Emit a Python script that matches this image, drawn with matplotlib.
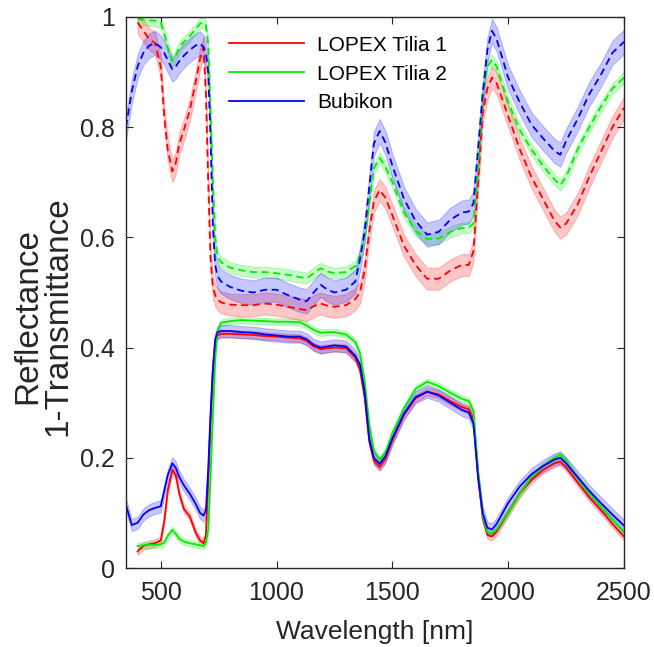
import numpy as np
import matplotlib
matplotlib.use("Agg")
import matplotlib.pyplot as plt

plt.rcParams['font.family'] = ['Liberation Sans', 'DejaVu Sans']

nan = np.nan
wavelength = [350, 375, 400, 425, 450, 475, 500, 515, 530, 550,
              565, 580, 600, 625, 650, 670, 685, 695, 705, 715,
              725, 735, 745, 760, 800, 850, 900, 950, 1000, 1050,
              1100, 1130, 1160, 1190, 1220, 1250, 1300, 1340, 1360, 1380,
              1400, 1420, 1445, 1470, 1500, 1550, 1600, 1650, 1700, 1750,
              1800, 1830, 1850, 1870, 1890, 1910, 1930, 1950, 2000, 2050,
              2100, 2150, 2200, 2225, 2250, 2300, 2350, 2400, 2450, 2500]

# 1 - Transmittance (dashed)
tilia1_1mT = [nan, nan, 0.99, 0.975, 0.96, 0.953, 0.91, 0.82, 0.76, 0.72,
              0.735, 0.77, 0.795, 0.83, 0.88, 0.925, 0.945, 0.86, 0.70, 0.56,
              0.51, 0.495, 0.488, 0.482, 0.478, 0.477, 0.477, 0.48, 0.478, 0.474,
              0.47, 0.468, 0.475, 0.48, 0.476, 0.474, 0.477, 0.488, 0.50, 0.54,
              0.61, 0.665, 0.686, 0.672, 0.64, 0.585, 0.55, 0.525, 0.525, 0.54,
              0.55, 0.55, 0.575, 0.70, 0.825, 0.87, 0.89, 0.88, 0.82, 0.76,
              0.71, 0.67, 0.63, 0.618, 0.625, 0.66, 0.71, 0.755, 0.80, 0.835]
tilia2_1mT = [nan, nan, 0.997, 0.995, 0.994, 0.993, 0.99, 0.97, 0.945, 0.92,
              0.93, 0.945, 0.955, 0.965, 0.978, 0.988, 0.99, 0.985, 0.95, 0.83,
              0.70, 0.60, 0.565, 0.555, 0.545, 0.54, 0.537, 0.537, 0.535, 0.532,
              0.528, 0.526, 0.535, 0.544, 0.538, 0.535, 0.537, 0.548, 0.565, 0.60,
              0.66, 0.725, 0.744, 0.728, 0.70, 0.645, 0.612, 0.597, 0.598, 0.61,
              0.617, 0.618, 0.625, 0.72, 0.86, 0.91, 0.922, 0.91, 0.845, 0.795,
              0.76, 0.73, 0.705, 0.695, 0.71, 0.76, 0.80, 0.837, 0.87, 0.89]
bubikon_1mT = [0.80, 0.865, 0.91, 0.935, 0.948, 0.953, 0.945, 0.935, 0.922, 0.905,
               0.91, 0.92, 0.93, 0.94, 0.948, 0.952, 0.945, 0.935, 0.90, 0.78,
               0.62, 0.55, 0.53, 0.52, 0.51, 0.503, 0.50, 0.505, 0.505, 0.495,
               0.487, 0.484, 0.50, 0.514, 0.505, 0.50, 0.505, 0.52, 0.56, 0.61,
               0.69, 0.77, 0.793, 0.772, 0.73, 0.67, 0.63, 0.605, 0.61, 0.632,
               0.645, 0.647, 0.662, 0.76, 0.86, 0.94, 0.975, 0.96, 0.89, 0.845,
               0.805, 0.78, 0.757, 0.75, 0.775, 0.815, 0.86, 0.895, 0.935, 0.955]

# Reflectance (solid)
tilia1_R = [nan, nan, 0.03, 0.04, 0.043, 0.045, 0.05, 0.085, 0.14, 0.178,
            0.168, 0.135, 0.107, 0.094, 0.065, 0.05, 0.045, 0.06, 0.16, 0.27,
            0.36, 0.41, 0.422, 0.425, 0.425, 0.424, 0.423, 0.421, 0.42, 0.418,
            0.417, 0.412, 0.402, 0.397, 0.399, 0.40, 0.399, 0.382, 0.36, 0.31,
            0.23, 0.195, 0.183, 0.198, 0.232, 0.278, 0.308, 0.32, 0.315, 0.303,
            0.292, 0.288, 0.27, 0.165, 0.09, 0.06, 0.057, 0.066, 0.10, 0.135,
            0.16, 0.178, 0.19, 0.193, 0.183, 0.155, 0.128, 0.105, 0.08, 0.057]
tilia2_R = [nan, nan, 0.04, 0.041, 0.042, 0.042, 0.043, 0.046, 0.058, 0.069,
            0.062, 0.053, 0.048, 0.045, 0.043, 0.041, 0.04, 0.045, 0.07, 0.17,
            0.28, 0.38, 0.43, 0.445, 0.448, 0.45, 0.449, 0.448, 0.447, 0.447,
            0.446, 0.44, 0.432, 0.427, 0.428, 0.428, 0.424, 0.41, 0.39, 0.34,
            0.26, 0.213, 0.196, 0.21, 0.245, 0.29, 0.325, 0.338, 0.33, 0.318,
            0.307, 0.303, 0.285, 0.175, 0.095, 0.065, 0.063, 0.07, 0.10, 0.135,
            0.165, 0.185, 0.20, 0.205, 0.195, 0.163, 0.135, 0.112, 0.088, 0.065]
bubikon_R = [0.114, 0.078, 0.082, 0.097, 0.105, 0.109, 0.112, 0.14, 0.168, 0.19,
             0.182, 0.165, 0.15, 0.135, 0.117, 0.10, 0.095, 0.105, 0.18, 0.28,
             0.36, 0.415, 0.428, 0.43, 0.43, 0.428, 0.427, 0.424, 0.422, 0.42,
             0.42, 0.415, 0.405, 0.40, 0.402, 0.404, 0.402, 0.385, 0.37, 0.32,
             0.235, 0.20, 0.189, 0.203, 0.235, 0.28, 0.31, 0.32, 0.313, 0.30,
             0.287, 0.282, 0.262, 0.165, 0.10, 0.073, 0.07, 0.08, 0.118, 0.148,
             0.17, 0.185, 0.197, 0.20, 0.19, 0.165, 0.14, 0.118, 0.097, 0.077]

# standard deviations (band half-widths)
std_1mT = {'LOPEX Tilia 1': 0.02, 'LOPEX Tilia 2': 0.01, 'Bubikon': 0.022}
std_R = {'LOPEX Tilia 1': 0.007, 'LOPEX Tilia 2': 0.006, 'Bubikon': 0.011}

labels = ['LOPEX Tilia 1', 'LOPEX Tilia 2', 'Bubikon']
colors = ['#ff0000', '#00ee00', '#0000ff']
series_1mT = [tilia1_1mT, tilia2_1mT, bubikon_1mT]
series_R = [tilia1_R, tilia2_R, bubikon_R]

fig = plt.figure(figsize=(6.54, 6.47), dpi=100)
ax = fig.add_axes([126/654, 1-568/647, 498/654, 551/647])

wl = np.array(wavelength, dtype=float)
handles = []
for lab, col, t, r in zip(labels, colors, series_1mT, series_R):
    t = np.array(t, dtype=float)
    r = np.array(r, dtype=float)
    st = std_1mT[lab]
    sr = std_R[lab]
    ax.fill_between(wl, t - st, t + st, color=col, alpha=0.22, lw=0.8)
    ax.fill_between(wl, r - sr, r + sr, color=col, alpha=0.22, lw=0.8)
    ax.plot(wl, t, color=col, ls=(0, (4, 2.5)), lw=1.3)
    h, = ax.plot(wl, r, color=col, ls='-', lw=1.3, label=lab)
    handles.append(h)

ax.set_xlim(350, 2500)
ax.set_ylim(0, 1)
ax.set_xticks([500, 1000, 1500, 2000, 2500])
ax.set_yticks([0, 0.2, 0.4, 0.6, 0.8, 1])
ax.set_yticklabels(['0', '0.2', '0.4', '0.6', '0.8', '1'])
dark = '#262626'
for s in ax.spines.values():
    s.set_color(dark)
    s.set_linewidth(1.0)
ax.tick_params(direction='in', length=5, width=0.8, colors=dark, labelsize=18,
               top=True, right=True)
ax.tick_params(axis='x', pad=9)
ax.tick_params(axis='y', pad=8)
ax.set_xlabel('Wavelength [nm]', fontsize=19, color=dark)
ax.xaxis.set_label_coords(0.5, -0.095)
ax.set_ylabel('Reflectance\n1-Transmittance', fontsize=24, color=dark,
              linespacing=0.98)
ax.yaxis.set_label_coords(-0.105, 0.457)

leg = ax.legend(handles=handles, loc='upper left', bbox_to_anchor=(0.17, 1.0),
                frameon=False, fontsize=15, handlelength=3.6, handletextpad=0.6,
                labelspacing=0.47)
for t in leg.get_texts():
    t.set_color('black')

fig.savefig('out.png', dpi=100)
